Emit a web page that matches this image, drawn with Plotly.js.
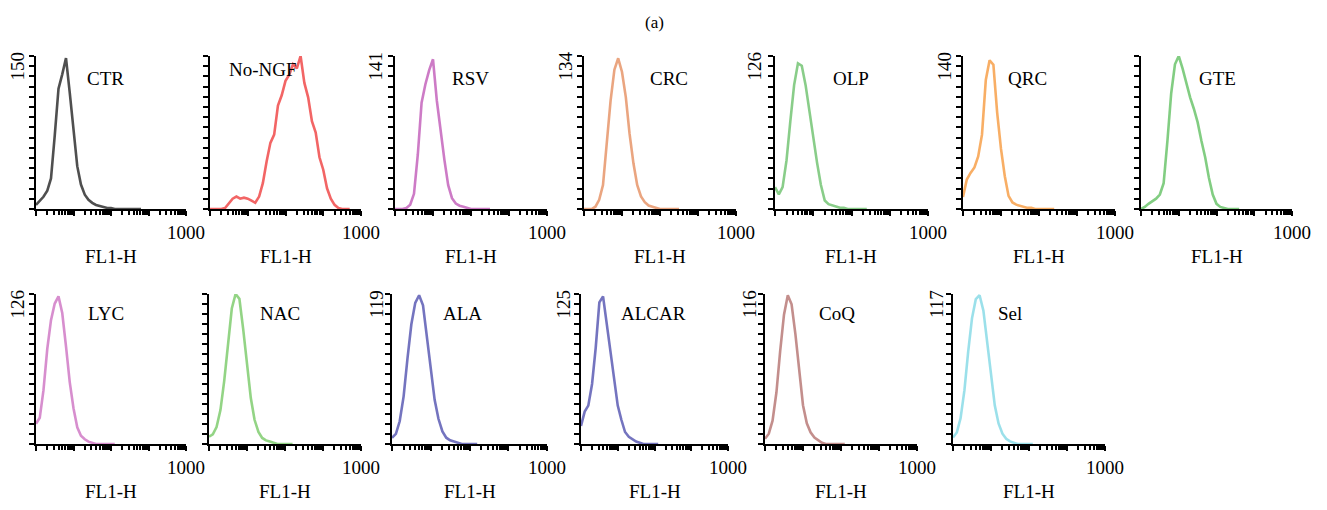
<!DOCTYPE html>
<html><head><meta charset="utf-8">
<script src="https://cdn.plot.ly/plotly-3.0.1.min.js"></script>
<style>body{margin:0;background:#fff}#chart{width:1327px;height:510px}</style>
</head><body><div id="chart"></div>
<script>
// FL1-H channel bins (log spaced)
const FL1 = [1,1.26,1.58,2.0,2.51,3.16,3.98,5.01,6.31,7.94,10,12.6,15.8,20.0,25.1,31.6,39.8,50.1,63.1,79.4,100,126,158,200,251,316,398,501,631,794,1000,1259,1585,1995,2512,3162,3981,5012,6310,7943,10000];

const samples = ['CTR','No-NGF','RSV','CRC','OLP','QRC','GTE','LYC','NAC','ALA','ALCAR','CoQ','Sel'];
const maxLabels = [150,null,141,134,126,140,null,126,null,119,125,116,117];
const xTickText = ['','','','','1000'];

// counts per sample
const CTR    = [4,8,12,18,30,72,118,132,148,114,76,42,24,14,9,6,4,3,2,1,1,0,0,0,0,0,0,0,0];
const NoNGF  = [0,0,0,0,1,6,10,12,10,11,10,8,6,12,25,46,64,72,100,110,124,130,140,136,148,122,108,85,74,50,38,20,10,4,1,0,0,0];
const RSV    = [0,0,0,1,4,14,50,98,115,128,138,100,72,45,22,10,5,3,2,1,0,0,0,0,0,0];
const CRC    = [0,0,0,2,8,21,55,95,122,132,120,98,66,40,21,11,6,3,2,1,0,0,0,0,0,0];
const OLP    = [18,12,18,40,72,102,120,118,102,80,56,38,20,7,4,3,2,1,1,0,0,0,0,0,0];
const QRC    = [11,27,33,38,48,68,118,136,132,88,55,30,12,6,4,3,2,1,1,0,0,0,0,0,0];
const GTE    = [0,2,5,8,10,14,25,66,112,140,148,136,122,108,97,84,66,50,30,14,5,2,1,0,0,0,0];
const LYC    = [17,22,45,80,104,118,124,110,82,52,30,14,7,4,2,1,0,0,0,0,0,0];
const NAC    = [6,8,14,28,52,85,112,124,120,95,65,38,20,10,5,3,2,1,0,0,0,0,0];
const ALA    = [5,8,18,38,68,95,112,118,110,85,58,35,20,10,5,3,2,1,0,0,0,0,0];
const ALCAR  = [15,27,32,50,80,118,123,100,80,56,32,20,10,6,4,2,1,0,0,0,0,0];
const CoQ    = [4,8,18,40,72,100,115,108,85,55,30,16,9,5,3,1,0,0,0,0,0,0];
const Sel    = [5,9,20,42,72,98,113,116,104,80,52,30,16,8,4,2,1,0,0,0,0,0];
const seriesList = [CTR,NoNGF,RSV,CRC,OLP,QRC,GTE,LYC,NAC,ALA,ALCAR,CoQ,Sel];

// styling
const colors = ['#303030','#f04a4a','#c464bc','#e6956a','#74c474','#f7a04a','#6cc46c','#d07ac6','#80cc70','#5c5cb4','#5c5cb4','#b87a78','#8adbe6'];
const W = 1327, H = 510;
const FONT = 'Liberation Serif, Times New Roman, serif';
// pixel geometry: [x0, x1, top, bottom, nameDx, nameCy, maxLabelCx, maxLabelTop]
const geo = [
  [36,186,56,209,69,78,17,50],
  [210,361,56,209,53,70,null,50],
  [395,547,56,209,75,78,375,50],
  [584,736,56,209,85,78,565,50],
  [775,928,56,209,76,78,754,50],
  [963,1115,56,209,64,78,944,50],
  [1141,1292,56,209,76,78,null,50],
  [36,186,294,444,70,313,17,288],
  [209,361,294,444,71,313,null,288],
  [392,547,294,444,71,313,376,288],
  [581,728,294,444,72,313,563,288],
  [765,917,294,444,72,313,749,288],
  [953,1105,294,444,57,313,936,288]
];
const px = v => v / W;
const py = v => 1 - v / H;

const data = [];
const layout = {
  width: W, height: H,
  margin: {l:0, r:0, t:0, b:0},
  paper_bgcolor: '#fff', plot_bgcolor: '#fff',
  showlegend: false,
  font: {family: FONT, color: '#000', size: 19},
  annotations: []
};

samples.forEach((name, i) => {
  const n = i + 1;
  const xa = 'x' + n, ya = 'y' + n;
  const g = geo[i];
  const ys = seriesList[i];
  const ymax = maxLabels[i] !== null ? maxLabels[i] : Math.max(...ys);
  data.push({
    type: 'scatter', mode: 'lines', x: FL1.slice(0, ys.length), y: ys,
    xaxis: xa, yaxis: ya,
    line: {color: colors[i], width: 2.6, shape: 'linear'},
    opacity: 0.85, hoverinfo: 'skip'
  });
  layout['xaxis' + n] = {
    type: 'log', range: [0, 4], domain: [px(g[0]), px(g[1])], anchor: ya,
    showgrid: false, zeroline: false, showline: true, linecolor: '#000', linewidth: 2,
    ticks: 'outside', ticklen: 5, tickwidth: 2, tickcolor: '#000',
    tickmode: 'array', tickvals: [1,10,100,1000,10000], ticktext: xTickText,
    tickfont: {family: FONT, size: 19, color: '#000'},
    minor: {ticks: 'outside', ticklen: 4, tickwidth: 2, tickcolor: '#000', dtick: 'D1', showgrid: false},
    fixedrange: true
  };
  layout['yaxis' + n] = {
    range: [0, ymax], domain: [py(g[3]), py(g[2])], anchor: xa,
    showgrid: false, zeroline: false, showline: true, linecolor: '#000', linewidth: 2,
    ticks: 'outside', ticklen: 5, tickwidth: 2, tickcolor: '#000',
    tick0: 0, dtick: ymax / 15, showticklabels: false, fixedrange: true
  };
  // sample name
  layout.annotations.push({
    xref: 'paper', yref: 'paper', x: px(g[0] + g[4]), y: py(g[5]),
    xanchor: 'center', yanchor: 'middle', showarrow: false,
    text: name, font: {family: FONT, size: 19, color: '#000'}
  });
  // x-axis title
  layout.annotations.push({
    xref: 'paper', yref: 'paper', x: px((g[0] + g[1]) / 2), y: py(g[3] + 47),
    xanchor: 'center', yanchor: 'middle', showarrow: false,
    text: 'FL1-H', font: {family: FONT, size: 19, color: '#000'}
  });
  // max count label
  if (maxLabels[i] !== null) {
    layout.annotations.push({
      xref: 'paper', yref: 'paper', x: px(g[6]), y: py(g[7]),
      xanchor: 'center', yanchor: 'top', showarrow: false, textangle: -90,
      text: String(maxLabels[i]), font: {family: FONT, size: 19, color: '#000'}
    });
  }
});

layout.annotations.push({
  xref: 'paper', yref: 'paper', x: px(654), y: py(23),
  xanchor: 'center', yanchor: 'middle', showarrow: false,
  text: '(a)', font: {family: FONT, size: 17, color: '#000'}
});

Plotly.newPlot('chart', data, layout, {staticPlot: true, displayModeBar: false});
</script>
</body></html>
